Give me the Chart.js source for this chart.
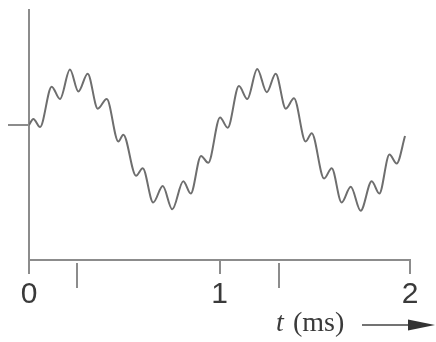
<!DOCTYPE html>
<html>
<head>
<meta charset="utf-8">
<script src="https://cdn.jsdelivr.net/npm/chart.js@4/dist/chart.umd.min.js"></script>
<style>
    html, body { margin: 0; padding: 0; background: #fff; }
    #wave { display: block; }
</style>
</head>
<body>
<canvas id="wave" width="436" height="342"></canvas>
<script>
// Waveform: time in ms, signal in arbitrary units
var times = [0.000, 0.023, 0.058, 0.119, 0.163, 0.215, 0.259, 0.308, 0.361, 0.408,
             0.469, 0.495, 0.562, 0.597, 0.652, 0.702, 0.752, 0.810, 0.849, 0.903,
             0.941, 1.003, 1.043, 1.102, 1.146, 1.198, 1.248, 1.295, 1.348, 1.391,
             1.452, 1.484, 1.549, 1.589, 1.641, 1.689, 1.741, 1.799, 1.839, 1.892,
             1.930, 1.974];
var signal = [0.00, 0.09, -0.03, 0.56, 0.38, 0.81, 0.49, 0.75, 0.24, 0.38,
              -0.24, -0.14, -0.74, -0.63, -1.13, -0.89, -1.23, -0.82, -1.00, -0.45,
              -0.55, 0.11, -0.04, 0.57, 0.38, 0.82, 0.48, 0.75, 0.24, 0.39,
              -0.24, -0.12, -0.78, -0.63, -1.13, -0.90, -1.25, -0.82, -1.00, -0.43,
              -0.56, -0.16];

// Axis ticks
var xTicks = [0, 1, 2];
var yTicks = [0];
var markerTicks = [0.25, 1.31];   // the two extra marks hanging under the axis

var axisColor = '#8c8c8c';
var lineColor = '#6e6e6e';
var textColor = '#3a3a3a';

// Extra marks, axis caption and arrow
var extrasPlugin = {
    id: 'extras',
    afterDraw: function (chart) {
        var ctx = chart.ctx;
        var xs = chart.scales.x;
        var bottom = chart.chartArea.bottom;

        ctx.save();
        ctx.strokeStyle = axisColor;
        ctx.lineWidth = 2;
        markerTicks.forEach(function (t) {
            var px = Math.round(xs.getPixelForValue(t));
            ctx.beginPath();
            ctx.moveTo(px, bottom + 3);
            ctx.lineTo(px, bottom + 28);
            ctx.stroke();
        });

        // caption: italic t, then (ms)
        ctx.fillStyle = textColor;
        ctx.textBaseline = 'alphabetic';
        ctx.textAlign = 'left';
        ctx.font = 'italic 28px "Liberation Serif"';
        ctx.fillText('t', 276, 331);
        ctx.font = '28px "Liberation Serif"';
        ctx.fillText('(ms)', 293, 331);

        // arrow
        ctx.strokeStyle = '#444';
        ctx.lineWidth = 1.5;
        ctx.beginPath();
        ctx.moveTo(362, 325);
        ctx.lineTo(412, 325);
        ctx.stroke();
        ctx.fillStyle = '#333';
        ctx.beginPath();
        ctx.moveTo(408, 319.5);
        ctx.lineTo(435, 325);
        ctx.lineTo(408, 330.5);
        ctx.closePath();
        ctx.fill();
        ctx.restore();
    }
};

var points = times.map(function (t, i) {
    return { x: t, y: signal[i] };
});

new Chart(document.getElementById('wave'), {
    type: 'line',
    data: {
        datasets: [{
            data: points,
            borderColor: lineColor,
            borderWidth: 2,
            pointRadius: 0,
            fill: false,
            cubicInterpolationMode: 'monotone'
        }]
    },
    options: {
        responsive: false,
        animation: false,
        events: [],
        layout: {
            padding: { left: 8, right: 26, top: 10, bottom: 26 }
        },
        plugins: {
            legend: { display: false },
            tooltip: { enabled: false }
        },
        scales: {
            x: {
                type: 'linear',
                min: 0,
                max: 2,
                afterBuildTicks: function (axis) {
                    axis.ticks = xTicks.map(function (v) { return { value: v }; });
                },
                grid: {
                    drawOnChartArea: false,
                    drawTicks: true,
                    tickLength: 14,
                    color: axisColor,
                    lineWidth: 2
                },
                border: { display: true, color: axisColor, width: 2 },
                ticks: {
                    padding: 3,
                    maxRotation: 0,
                    color: textColor,
                    font: { family: '"Liberation Sans"', size: 30 }
                }
            },
            y: {
                type: 'linear',
                min: -1.97,
                max: 1.68,
                afterBuildTicks: function (axis) {
                    axis.ticks = yTicks.map(function (v) { return { value: v }; });
                },
                grid: {
                    drawOnChartArea: false,
                    drawTicks: true,
                    tickLength: 21,
                    color: axisColor,
                    lineWidth: 2
                },
                border: { display: true, color: axisColor, width: 2 },
                ticks: { display: false }
            }
        }
    },
    plugins: [extrasPlugin]
});
</script>
</body>
</html>
